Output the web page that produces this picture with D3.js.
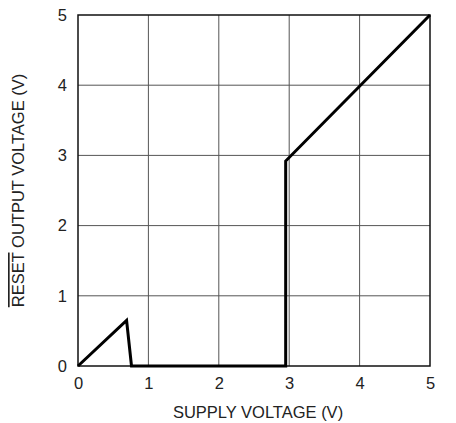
<!DOCTYPE html>
<html>
<head>
<meta charset="utf-8">
<script src="https://cdn.jsdelivr.net/npm/d3@7"></script>
<style>
  body { margin: 0; background: #fff; }
  text { font-family: "Liberation Sans", Arial, sans-serif; fill: #222; }
</style>
</head>
<body>
<svg id="mainsvg" width="456" height="423"></svg>
<script>
// supply voltage vs RESET output voltage
const supplyV = [0, 0.69, 0.76, 2.95, 2.95, 5];
const resetV  = [0, 0.65, 0, 0, 2.92, 5];
const xTicks = [0, 1, 2, 3, 4, 5];
const yTicks = [0, 1, 2, 3, 4, 5];

const margin = {left: 78, top: 15, right: 26, bottom: 57};
const svg = d3.select("#mainsvg");
const W = 456 - margin.left - margin.right;
const H = 423 - margin.top - margin.bottom;
const g = svg.append("g").attr("transform", `translate(${margin.left},${margin.top})`);

const x = d3.scaleLinear().domain([0, 5]).range([0, W]);
const y = d3.scaleLinear().domain([0, 5]).range([H, 0]);

// grid
g.selectAll(".vgrid").data(xTicks.slice(1, -1)).enter().append("line")
  .attr("x1", d => x(d)).attr("x2", d => x(d))
  .attr("y1", 0).attr("y2", H)
  .style("stroke", "#555").style("stroke-width", 1);
g.selectAll(".hgrid").data(yTicks.slice(1, -1)).enter().append("line")
  .attr("x1", 0).attr("x2", W)
  .attr("y1", d => y(d)).attr("y2", d => y(d))
  .style("stroke", "#555").style("stroke-width", 1);

// frame
g.append("rect").attr("width", W).attr("height", H)
  .style("fill", "none").style("stroke", "#111").style("stroke-width", 1.5);

// tick labels
g.append("g").attr("transform", `translate(0,${H})`)
  .call(d3.axisBottom(x).tickValues(xTicks).tickFormat(d3.format("d")).tickSize(0).tickPadding(11))
  .call(a => a.select(".domain").remove())
  .selectAll("text").style("font-size", "16.5px").style("fill", "#222");
g.append("g")
  .call(d3.axisLeft(y).tickValues(yTicks).tickFormat(d3.format("d")).tickSize(0).tickPadding(11))
  .call(a => a.select(".domain").remove())
  .selectAll("text").style("font-size", "16.5px").style("fill", "#222");

// data line
const line = d3.line().x(d => x(d[0])).y(d => y(d[1]));
g.append("path")
  .datum(supplyV.map((v, i) => [v, resetV[i]]))
  .attr("d", line)
  .style("fill", "none").style("stroke", "#000")
  .style("stroke-width", 3).style("stroke-linejoin", "miter");

// axis titles
svg.append("text")
  .attr("x", 258).attr("y", 418)
  .attr("text-anchor", "middle").style("font-size", "16.5px")
  .text("SUPPLY VOLTAGE (V)");

const yt = svg.append("text")
  .attr("transform", `translate(24,${margin.top + H / 2}) rotate(-90)`)
  .attr("text-anchor", "middle").style("font-size", "16.5px");
yt.append("tspan").style("text-decoration", "overline").text("RESET");
yt.append("tspan").text(" OUTPUT VOLTAGE (V)");
</script>
</body>
</html>
